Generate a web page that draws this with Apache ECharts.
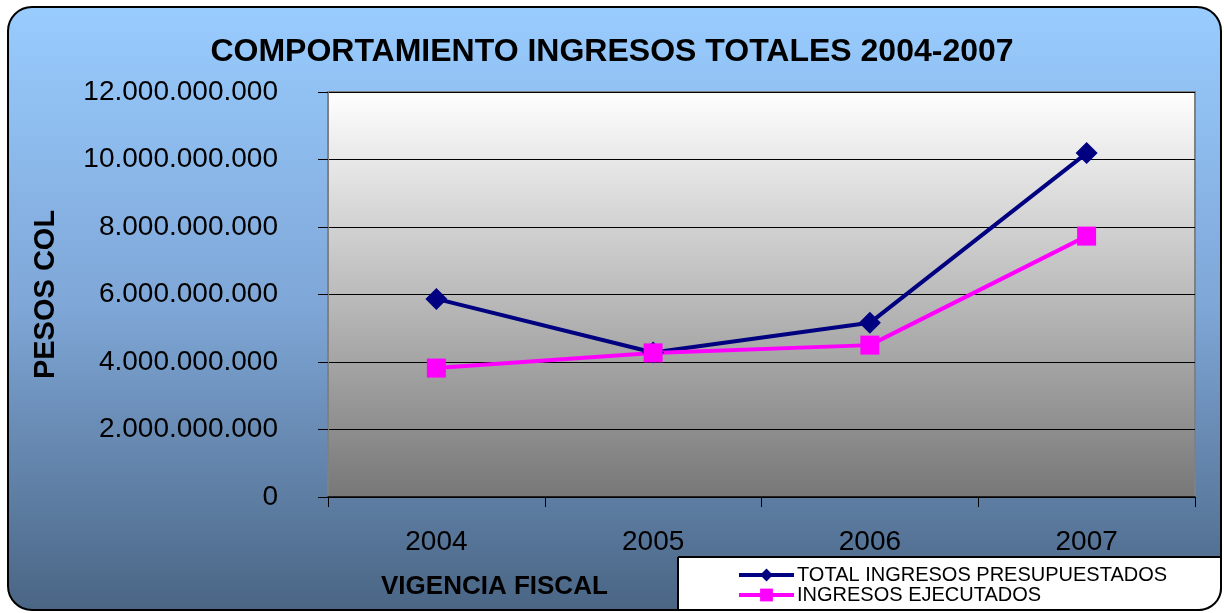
<!DOCTYPE html>
<html>
<head>
<meta charset="utf-8">
<script src="https://cdn.jsdelivr.net/npm/echarts@6/dist/echarts.min.js"></script>
<style>
  html, body { margin: 0; padding: 0; background: #fff; }
  #chart { width: 1224px; height: 613px; }
</style>
</head>
<body>
<div id="chart"></div>
<script>
// data
const years = ['2004', '2005', '2006', '2007'];
const presupuestados = [5870000000, 4280000000, 5160000000, 10190000000];
const ejecutados = [3820000000, 4270000000, 4500000000, 7730000000];
const yTicks = { min: 0, max: 12000000000, interval: 2000000000 };

// 12000000000 -> 12.000.000.000
function fmt(v) {
    return String(v).replace(/\B(?=(\d{3})+(?!\d))/g, '.');
}

const FONT = 'Liberation Sans, Arial, sans-serif';
const ec = echarts.init(document.getElementById('chart'), null, { renderer: 'canvas' });

const option = {
    animation: false,
    textStyle: { fontFamily: FONT },
    title: {
        text: 'COMPORTAMIENTO INGRESOS TOTALES 2004-2007',
        left: 'center',
        top: 31,
        textStyle: { fontSize: 32, fontWeight: 'bold', color: '#000', fontFamily: FONT }
    },
    graphic: [
        {
            type: 'rect', z: -100,
            shape: { x: 8, y: 7, width: 1213, height: 603, r: 24 },
            style: {
                fill: new echarts.graphic.LinearGradient(0, 0, 0, 1, [
                    { offset: 0, color: '#99ccff' },
                    { offset: 0.5, color: '#7ea6d6' },
                    { offset: 1, color: '#4a6584' }
                ]),
                stroke: '#000', lineWidth: 2
            }
        },
        {
            type: 'rect', z: 100,
            shape: { x: 678, y: 557, width: 543, height: 53, r: [0, 0, 22, 0] },
            style: { fill: '#fff', stroke: '#000', lineWidth: 2 }
        },
        {
            type: 'text', z: 100,
            style: {
                x: 381, y: 587, verticalAlign: 'middle',
                text: 'VIGENCIA FISCAL', fontSize: 26, fontWeight: 'bold', fill: '#000', fontFamily: FONT
            }
        }
    ],
    legend: {
        z: 101,
        orient: 'vertical',
        left: 732, top: 560,
        itemWidth: 55, itemHeight: 16, itemGap: 0,
        lineStyle: { width: 4 },
        textStyle: { fontSize: 20, color: '#000', padding: [0, 0, 0, -2] },
        data: ['TOTAL INGRESOS PRESUPUESTADOS', 'INGRESOS EJECUTADOS']
    },
    grid: {
        left: 328, right: 29, top: 92, bottom: 116,
        show: true,
        borderColor: '#808080', borderWidth: 2,
        backgroundColor: new echarts.graphic.LinearGradient(0, 0, 0, 1, [
            { offset: 0, color: '#ffffff' },
            { offset: 1, color: '#777777' }
        ])
    },
    xAxis: {
        type: 'category',
        data: years,
        boundaryGap: true,
        axisLine: { lineStyle: { color: '#000', width: 1.5 } },
        axisTick: { show: true, length: 10, lineStyle: { color: '#000' } },
        axisLabel: { fontSize: 28, color: '#000', margin: 31 }
    },
    yAxis: {
        type: 'value',
        min: yTicks.min, max: yTicks.max, interval: yTicks.interval,
        name: 'PESOS COL',
        nameLocation: 'middle',
        nameGap: 268,
        nameRotate: 90,
        nameTextStyle: { fontSize: 29, fontWeight: 'bold', color: '#000' },
        axisLine: { show: true, lineStyle: { color: '#808080', width: 2 } },
        axisTick: { show: true, length: 10, lineStyle: { color: '#000' } },
        axisLabel: { fontSize: 28, color: '#000', margin: 50, formatter: fmt },
        splitLine: { show: true, lineStyle: { color: '#000', width: 1.2 } }
    },
    series: [
        {
            name: 'TOTAL INGRESOS PRESUPUESTADOS',
            type: 'line',
            data: presupuestados,
            color: '#000080',
            lineStyle: { color: '#000080', width: 4 },
            symbol: 'diamond',
            symbolSize: 22,
            itemStyle: { color: '#000080' }
        },
        {
            name: 'INGRESOS EJECUTADOS',
            type: 'line',
            data: ejecutados,
            color: '#ff00ff',
            lineStyle: { color: '#ff00ff', width: 4 },
            symbol: 'rect',
            symbolSize: 19,
            itemStyle: { color: '#ff00ff' }
        }
    ]
};

ec.setOption(option);
</script>
</body>
</html>
